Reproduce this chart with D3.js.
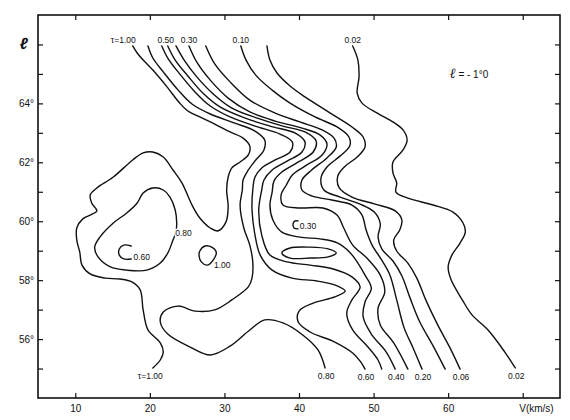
<!DOCTYPE html>
<html><head><meta charset="utf-8">
<script src="https://cdn.jsdelivr.net/npm/d3@7/dist/d3.min.js"></script>
<style>
body{margin:0;background:#fff}
svg{display:block}
text{font-family:"Liberation Sans",Arial,sans-serif;fill:#111}
</style>
</head><body>
<svg id="c" width="570" height="420"></svg>
<script>
// ---- axis ticks ----
const xTickValues = [10,20,30,40,50,60,70];
const xTickLabels = ["10","20","30","40","50","60","V(km/s)"];
const yTickValues = [55,56,57,58,59,60,61,62,63,64,65,66];
const yTickLabels = {56:"56°",58:"58°",60:"60°",62:"62°",64:"64°"};

// ---- open contour lines (V km/s, l degrees), top to bottom ----
const tau100 = [[17.7,65.95],[18.3,65.71],[19.1,65.47],[20.4,65.13],[22.3,64.56],[24.0,64.01],[25.1,63.74],[26.7,63.54],[28.7,63.30],[30.75,63.03],[32.5,62.82],[33.4,62.55],[33.2,62.25],[32.1,62.01],[31.0,61.81],[30.5,61.50],[30.3,61.06],[30.5,60.48],[30.2,59.97],[29.1,59.67],[28.1,59.77],[26.7,60.11],[25.65,60.55],[24.3,61.30],[23.1,61.74],[21.8,62.18],[20.4,62.35],[19.1,62.32],[17.7,62.08],[15.1,61.50],[12.9,61.13],[12.0,60.89],[12.2,60.62],[12.9,60.35],[12.0,60.21],[11.0,60.08],[10.2,59.77],[10.2,59.36],[10.6,58.95],[10.9,58.51],[12.0,58.21],[14.0,58.07],[16.0,58.04],[17.6,57.94],[18.7,57.67],[19.1,56.99],[19.75,56.31],[21.4,55.87],[21.8,55.56],[21.4,55.29],[20.4,55.02]];
const tau080 = [[19.75,65.95],[20.4,65.54],[21.8,65.07],[23.8,64.45],[25.65,63.98],[28.1,63.64],[31.4,63.33],[34.1,63.06],[35.4,62.76],[35.3,62.42],[34.2,62.08],[33.2,61.74],[32.5,61.40],[32.4,61.06],[32.1,60.55],[32.6,59.77],[33.4,59.19],[33.8,58.62],[33.7,58.07],[33.2,57.77],[31.0,57.33],[28.7,56.99],[26.05,56.95],[23.8,57.12],[21.8,56.92],[21.4,56.58],[22.4,56.17],[25.4,55.73],[28.1,55.46],[30.75,55.76],[33.4,56.31],[35.4,56.65],[37.85,56.55],[40.5,56.14],[42.55,55.63],[43.5,55.02]];
const tau060 = [[21.6,65.95],[22.4,65.54],[24.0,65.00],[26.05,64.39],[28.1,63.91],[30.75,63.54],[34.1,63.23],[37.45,62.96],[39.1,62.69],[38.8,62.35],[36.8,62.08],[35.0,61.81],[34.1,61.50],[33.8,61.06],[33.7,60.38],[34.1,59.53],[34.8,58.85],[36.4,58.34],[39.06,58.07],[42.4,57.97],[45.2,57.80],[46.2,57.63],[44.8,57.43],[41.9,57.22],[40.0,56.95],[39.9,56.58],[41.5,56.24],[44.8,55.90],[47.2,55.53],[48.3,55.22],[48.85,54.98]];
const tau050 = [[22.4,65.95],[23.4,65.47],[25.1,64.93],[27.1,64.35],[29.4,63.88],[32.8,63.50],[36.1,63.23],[39.5,62.99],[40.8,62.69],[40.4,62.35],[38.4,62.04],[36.4,61.74],[35.3,61.40],[35.0,61.06],[34.6,60.38],[35.0,59.53],[36.1,58.85],[38.4,58.62],[41.5,58.51],[44.6,58.38],[47.1,58.11],[48.2,57.77],[47.1,57.33],[46.4,56.88],[47.2,56.31],[49.25,55.73],[50.6,55.29],[51.1,54.98]];
const tau040 = [[23.5,65.95],[24.6,65.47],[26.3,64.90],[28.5,64.32],[31.0,63.84],[34.4,63.50],[37.85,63.23],[40.8,63.03],[42.3,62.72],[41.9,62.35],[39.7,61.98],[37.7,61.67],[36.65,61.37],[36.4,60.99],[36.1,60.55],[36.5,60.04],[37.7,59.63],[40.1,59.46],[42.8,59.40],[45.2,59.26],[46.8,58.95],[47.9,58.58],[48.85,58.17],[49.7,57.73],[48.85,57.26],[48.6,56.75],[49.7,56.17],[51.7,55.56],[52.9,54.98]];
const tau030 = [[25.25,65.95],[26.3,65.40],[28.1,64.79],[30.5,64.18],[33.4,63.71],[36.8,63.40],[40.4,63.16],[42.8,62.93],[43.75,62.62],[43.1,62.25],[40.8,61.87],[39.1,61.57],[38.3,61.23],[37.6,60.89],[37.85,60.55],[40.1,60.45],[43.2,60.45],[45.1,60.21],[46.0,59.77],[47.2,59.19],[49.1,58.75],[50.9,58.17],[51.5,57.60],[50.6,57.05],[50.9,56.48],[52.7,55.87],[54.6,54.98]];
const tau020 = [[27.5,65.95],[28.7,65.34],[30.75,64.73],[33.4,64.11],[36.8,63.67],[40.1,63.37],[43.1,63.10],[44.7,62.82],[45.0,62.52],[43.75,62.15],[41.7,61.74],[40.4,61.40],[40.4,61.06],[41.7,60.86],[44.4,60.72],[47.1,60.55],[48.45,60.21],[49.0,59.70],[49.8,59.19],[51.1,58.68],[52.2,58.17],[53.1,57.33],[54.1,56.38],[55.3,55.70],[56.5,54.98]];
const tau010 = [[32.2,65.95],[32.9,65.47],[34.2,64.96],[36.4,64.45],[38.8,64.01],[42.15,63.54],[45.1,63.20],[46.7,62.86],[46.8,62.55],[45.5,62.21],[43.75,61.84],[42.95,61.47],[43.35,61.06],[45.5,60.82],[48.2,60.58],[50.1,60.31],[50.9,59.91],[50.6,59.46],[51.1,59.06],[52.6,58.65],[53.8,58.14],[54.9,57.39],[56.2,56.58],[58.0,55.76],[59.6,54.98]];
const tau006 = [[35.7,65.95],[36.1,65.47],[37.05,65.03],[38.8,64.59],[40.8,64.22],[44.2,63.67],[47.1,63.20],[48.6,62.86],[48.85,62.52],[47.8,62.18],[46.2,61.87],[45.2,61.53],[45.4,61.13],[47.1,60.82],[50.2,60.58],[52.9,60.35],[53.8,60.04],[53.5,59.70],[52.7,59.36],[53.1,58.99],[54.6,58.58],[55.8,58.07],[57.0,57.33],[58.6,56.48],[60.25,55.70],[61.6,54.98]];
const tau002 = [[47.2,65.95],[47.9,65.47],[48.05,64.90],[47.8,64.35],[48.45,64.01],[50.5,63.67],[52.6,63.37],[53.95,63.10],[54.5,62.76],[53.95,62.42],[52.6,62.01],[52.6,61.64],[53.1,61.30],[53.0,60.99],[54.5,60.79],[58.0,60.55],[60.65,60.31],[62.0,59.94],[62.3,59.63],[61.6,59.26],[60.5,58.85],[60.0,58.45],[60.4,58.01],[61.9,57.33],[63.2,56.82],[65.35,56.31],[67.6,55.56],[69.0,55.02]];

// ---- closed contours ----
const loop080 = [[20.4,61.13],[21.8,61.06],[22.7,60.82],[23.4,60.38],[23.6,59.94],[23.5,59.63],[23.1,59.36],[22.4,58.92],[21.4,58.58],[19.6,58.34],[16.9,58.34],[14.7,58.45],[13.05,58.79],[12.6,59.12],[13.3,59.46],[15.1,59.94],[16.9,60.28],[18.3,60.62],[19.1,60.96]];
const loop100 = [[26.7,58.99],[27.4,59.16],[28.3,59.12],[28.9,58.95],[28.6,58.72],[27.7,58.51],[26.9,58.62],[26.6,58.82]];
const loopThin = [[37.7,58.92],[38.8,59.09],[41.5,59.12],[43.9,59.06],[45.0,58.92],[43.9,58.79],[41.5,58.75],[38.8,58.75]];
// small open hooks next to their labels
const hook060 = [[17.5,59.16],[16.5,59.19],[15.9,59.06],[15.9,58.85],[16.5,58.72],[17.5,58.72]];
const hook030 = [[39.87,60.01],[39.46,60.01],[39.2,59.91],[39.33,59.77],[39.87,59.74]];

// ---- contour labels ----
const topLabels = ["τ=1.00","0.50","0.30","0.10","0.02"];
const topLabelLines = [tau100, tau050, tau030, tau010, tau002];
const bottomLabels = ["τ=1.00","0.80","0.60","0.40","0.20","0.06","0.02"];
const bottomLabelLines = [tau100, tau080, tau060, tau040, tau020, tau006, tau002];
const innerLabels = [["0.80",23.4,59.6],["0.60",17.8,58.8],["1.00",28.6,58.5],["0.30",40.1,59.85]];

const svg = d3.select("#c");
const x = d3.scaleLinear().domain([5,75]).range([38,560]);
const y = d3.scaleLinear().domain([54,67]).range([398,15]);

const lineGen = d3.line().x(d=>x(d[0])).y(d=>y(d[1])).curve(d3.curveCatmullRom.alpha(0.5));
const loopGen = d3.line().x(d=>x(d[0])).y(d=>y(d[1])).curve(d3.curveCatmullRomClosed.alpha(0.5));

const g = svg.append("g").attr("fill","none").attr("stroke","#111").attr("stroke-width",1.4).attr("stroke-linejoin","round").attr("stroke-linecap","round");
[tau100,tau080,tau060,tau050,tau040,tau030,tau020,tau010,tau006,tau002,hook060,hook030].forEach(d=>g.append("path").attr("d",lineGen(d)));
[loop080,loop100,loopThin].forEach(d=>g.append("path").attr("d",loopGen(d)));

// axes
function clean(sel){ sel.select(".domain").remove(); sel.selectAll(".tick line").attr("stroke","#111").attr("stroke-width",1.2); }
const fs = 10;
svg.append("g").attr("transform","translate(0,398)")
  .call(d3.axisBottom(x).tickValues(xTickValues).tickSize(-5).tickPadding(7).tickFormat((d,i)=>xTickLabels[i]))
  .call(clean)
  .call(s=>s.selectAll("text").attr("font-size",fs).attr("font-family","Liberation Sans, Arial, sans-serif").attr("fill","#111"))
  .call(s=>s.selectAll(".tick").filter(d=>d===70).select("text").attr("text-anchor","start").attr("dx",-4));
svg.append("g").attr("transform","translate(0,15)")
  .call(d3.axisTop(x).tickValues(xTickValues).tickSize(-5).tickFormat(""))
  .call(clean);
svg.append("g").attr("transform","translate(38,0)")
  .call(d3.axisLeft(y).tickValues(yTickValues).tickSize(-5).tickPadding(4).tickFormat(d=>yTickLabels[d]||""))
  .call(clean)
  .call(s=>s.selectAll("text").attr("font-size",fs).attr("font-family","Liberation Sans, Arial, sans-serif").attr("fill","#111"));
svg.append("g").attr("transform","translate(560,0)")
  .call(d3.axisRight(y).tickValues(yTickValues).tickSize(-5).tickFormat(""))
  .call(clean);

svg.append("rect").attr("x",38).attr("y",15).attr("width",522).attr("height",383)
  .attr("fill","none").attr("stroke","#111").attr("stroke-width",1.6);

// y axis symbol
svg.append("text").attr("x",24).attr("y",y(66)+5).attr("text-anchor","middle")
  .attr("font-family","DejaVu Serif, serif").attr("font-style","italic").attr("font-weight","bold")
  .attr("font-size",16).text("ℓ");

// plot annotation
const ann = svg.append("text").attr("x",x(60.2)).attr("y",y(64.85)).attr("font-size",10);
ann.append("tspan").attr("font-family","DejaVu Serif, serif").attr("font-style","italic").attr("font-weight","bold").attr("font-size",14).text("ℓ");
ann.append("tspan").text(" = -  1°0");

// contour labels
const lab = svg.append("g").attr("font-size",8.5);
topLabels.forEach((t,i)=>{
  const p = topLabelLines[i][0];
  lab.append("text").attr("x",x(p[0])+(i===0?3:(i===1?-2:0))).attr("y",y(p[1])-3)
    .attr("text-anchor",i===0?"end":"middle").text(t);
});
bottomLabels.forEach((t,i)=>{
  const arr = bottomLabelLines[i], p = arr[arr.length-1];
  lab.append("text").attr("x",x(p[0])+1).attr("y",y(p[1])+11)
    .attr("text-anchor",i===0?"start":"middle").attr("dx",i===0?-16:0).text(t);
});
innerLabels.forEach(d=>{
  lab.append("text").attr("x",x(d[1])).attr("y",y(d[2])+3).attr("text-anchor","start")
    .attr("stroke","#fff").attr("stroke-width",3).attr("paint-order","stroke").text(d[0]);
});
</script>
</body></html>
